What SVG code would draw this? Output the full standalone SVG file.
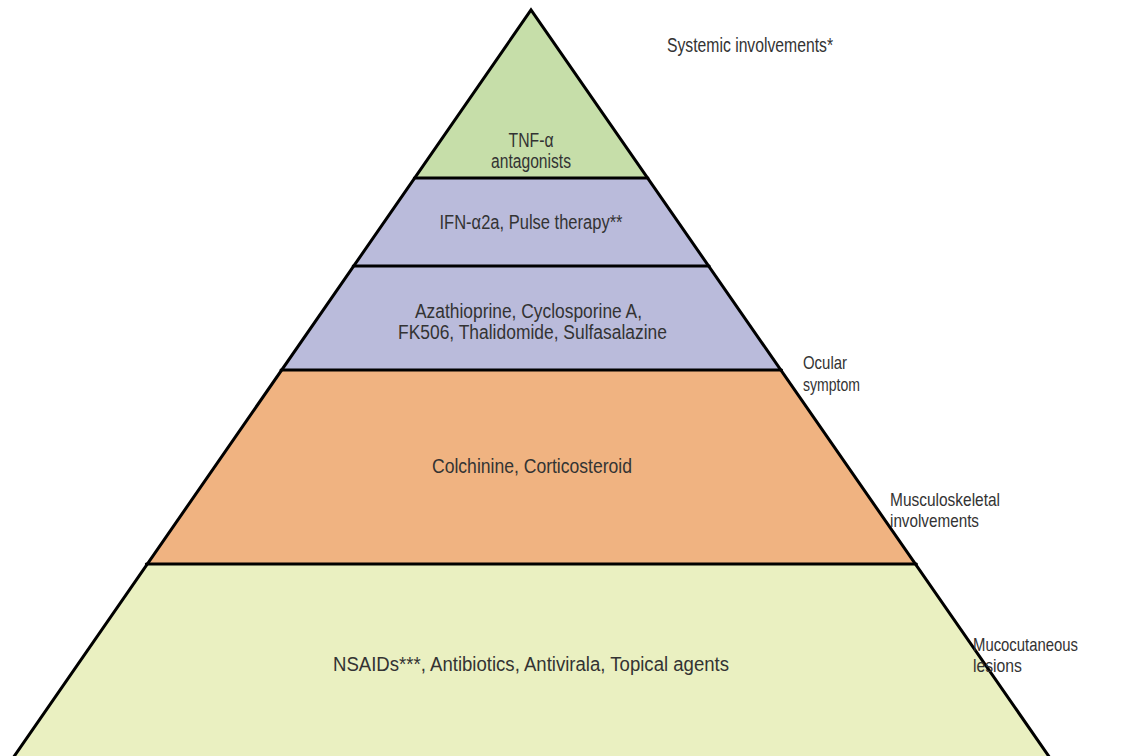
<svg xmlns="http://www.w3.org/2000/svg" width="1140" height="756" viewBox="0 0 1140 756">
<style>
.t{font-family:"Liberation Sans Narrow","Liberation Sans",Arial,sans-serif;font-size:19.5px;fill:#333;}
.r{font-size:18.5px;}
.c{text-anchor:middle;}
.ln{stroke:#000;stroke-width:3;fill:none;stroke-linecap:round;}
</style>
<rect width="1140" height="756" fill="#fff"/>
<g id="layer1">
<polygon points="531,10 647.9,178 414.3,178" fill="#c6dea9"/>
<text class="t c" x="531" y="147" textLength="45" lengthAdjust="spacingAndGlyphs">TNF-α</text>
<text class="t c" x="531" y="168" textLength="80" lengthAdjust="spacingAndGlyphs">antagonists</text>
</g>
<g id="layer2">
<polygon points="414.3,178 647.9,178 709.1,266 353.2,266" fill="#babbdb"/>
<text class="t c" x="531" y="229" textLength="183" lengthAdjust="spacingAndGlyphs">IFN-α2a, Pulse therapy**</text>
</g>
<g id="layer3">
<polygon points="353.2,266 709.1,266 781.5,370 281,370" fill="#babbdb"/>
<text class="t c" x="528.5" y="318" textLength="227" lengthAdjust="spacingAndGlyphs">Azathioprine, Cyclosporine A,</text>
<text class="t c" x="532.5" y="339" textLength="269" lengthAdjust="spacingAndGlyphs">FK506, Thalidomide, Sulfasalazine</text>
</g>
<g id="layer4">
<polygon points="281,370 781.5,370 916.4,564 146.3,564" fill="#f0b381"/>
<text class="t c" x="532" y="473" textLength="200" lengthAdjust="spacingAndGlyphs">Colchinine, Corticosteroid</text>
</g>
<g id="layer5">
<polygon points="146.3,564 916.4,564 1050,756 13,756" fill="#eaf0c1"/>
<text class="t c" x="531" y="671" textLength="396" lengthAdjust="spacingAndGlyphs">NSAIDs***, Antibiotics, Antivirala, Topical agents</text>
</g>
<g id="connectors">
<line class="ln" x1="414.3" y1="178" x2="647.9" y2="178"/>
<line class="ln" x1="353.2" y1="266" x2="709.1" y2="266"/>
<line class="ln" x1="281" y1="370" x2="781.5" y2="370"/>
<line class="ln" x1="146.3" y1="564" x2="916.4" y2="564"/>
<polyline class="ln" points="13,758 531,10 1050,758" stroke-linejoin="miter"/>
</g>
<g id="labels">
<text class="t" x="667" y="52" textLength="166" lengthAdjust="spacingAndGlyphs">Systemic involvements*</text>
<text class="t r" x="803" y="369" textLength="44" lengthAdjust="spacingAndGlyphs">Ocular</text>
<text class="t r" x="803" y="391" textLength="57" lengthAdjust="spacingAndGlyphs">symptom</text>
<text class="t r" x="890" y="506" textLength="110" lengthAdjust="spacingAndGlyphs">Musculoskeletal</text>
<text class="t r" x="890" y="527" textLength="89" lengthAdjust="spacingAndGlyphs">involvements</text>
<text class="t r" x="973" y="651" textLength="105" lengthAdjust="spacingAndGlyphs">Mucocutaneous</text>
<text class="t r" x="973" y="672" textLength="49" lengthAdjust="spacingAndGlyphs">lesions</text>
</g>
</svg>
